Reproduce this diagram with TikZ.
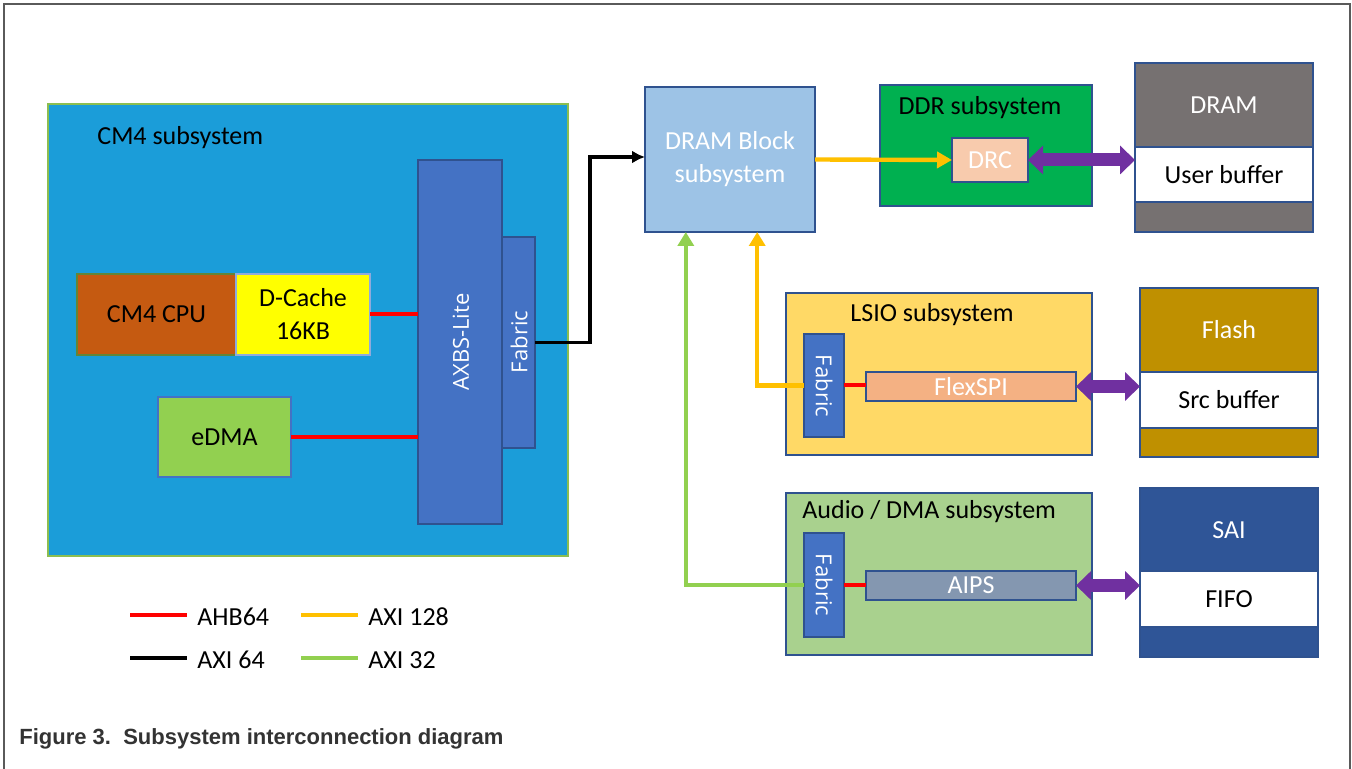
\documentclass[tikz,border=0pt]{standalone}
\usepackage{fontspec}
\setmainfont{Carlito}
\newfontfamily\osans{Open Sans}
\newfontfamily\capfont{Liberation Sans}
\usetikzlibrary{arrows.meta,calc}
\definecolor{cmbg}{RGB}{27,157,217}
\definecolor{cmbord}{RGB}{140,190,80}
\definecolor{bord}{RGB}{47,82,143}
\definecolor{axbsc}{RGB}{68,114,196}
\definecolor{cpuc}{RGB}{197,90,17}
\definecolor{cachec}{RGB}{255,255,0}
\definecolor{edmac}{RGB}{146,208,80}
\definecolor{dramblkc}{RGB}{157,195,230}
\definecolor{ddrc}{RGB}{0,176,80}
\definecolor{drcc}{RGB}{248,203,173}
\definecolor{dramc}{RGB}{118,113,113}
\definecolor{lsioc}{RGB}{255,217,102}
\definecolor{flexc}{RGB}{244,177,131}
\definecolor{flashc}{RGB}{191,144,0}
\definecolor{audioc}{RGB}{169,209,142}
\definecolor{aipsc}{RGB}{132,151,176}
\definecolor{saic}{RGB}{47,85,151}
\definecolor{purp}{RGB}{112,48,160}
\definecolor{ylw}{RGB}{255,192,0}
\definecolor{grn}{RGB}{146,208,80}
\definecolor{redl}{RGB}{255,0,0}
\definecolor{capc}{RGB}{51,51,51}
\definecolor{framec}{RGB}{90,90,90}
\newcommand\boxat[7]{\node[#2,anchor=north west,minimum width={(#5-#3)*0.5pt},minimum height={(#6-#4)*0.5pt}] (#1) at (#3,#4) {#7};}
\begin{document}
\begin{tikzpicture}[x=0.5pt,y=-0.5pt,
  bx/.style={draw=bord,line width=0.6pt,inner sep=0pt,outer sep=0pt},
  lbl/.style={font=\fontsize{13}{16.5}\selectfont,inner sep=0pt,align=center},
  rlbl/.style={font=\osans\fontsize{11}{13}\selectfont,text=white,inner sep=0pt},
  ahb/.style={draw=redl,line width=2pt},
  axi64/.style={draw=black,line width=1.8pt},
  axi128/.style={draw=ylw,line width=2.2pt},
  axi32/.style={draw=grn,line width=2.2pt},
  bidir/.style={draw=purp,line width=6.5pt,{Triangle[length=7.5pt,width=14pt]}-{Triangle[length=7.5pt,width=14pt]}},
  frame/.style={draw=framec,line width=1.2pt}]
\useasboundingbox (0,0) rectangle (1352,769);
\fill[white] (0,0) rectangle (1352,769);
\draw[frame] (4,769) -- (4,4) -- (1350,4) -- (1350,769);
% CM4 subsystem
\boxat{cm4}{bx,draw=cmbord,fill=cmbg}{48}{104}{568}{556}{}
\node[lbl,anchor=west] (cm4lbl) at (97,138) {CM4 subsystem};
\boxat{cpu}{bx,draw=cmbord!70!black,fill=cpuc,lbl}{77}{274}{236}{355}{CM4 CPU}
\boxat{dcache}{bx,draw=axbsc!60,fill=cachec,lbl}{236}{274}{370}{355}{D-Cache\\16KB}
\boxat{edma}{bx,draw=axbsc,fill=edmac,lbl}{158}{397}{291}{477}{eDMA}
\boxat{axbs}{bx,fill=axbsc}{418}{160}{502}{524}{}
\boxat{cmfab}{bx,fill=axbsc}{502}{237}{535}{448}{}
\node[rlbl,rotate=90] (axbslbl) at (461,342) {AXBS-Lite};
\node[rlbl,rotate=90] (cmfablbl) at (519,342) {Fabric};
% DRAM block
\boxat{dramblk}{bx,fill=dramblkc,lbl,text=white}{645}{87}{815}{232}{DRAM Block\\subsystem}
% DDR
\boxat{ddr}{bx,fill=ddrc}{880}{85}{1092}{206}{}
\node[lbl] (ddrlbl) at (980,108) {DDR subsystem};
\boxat{drc}{bx,fill=drcc,lbl,text=white}{952}{138}{1028}{182}{DRC}
% DRAM
\boxat{dram}{bx,fill=dramc}{1135}{63}{1313}{232}{}
\boxat{ubuf}{bx,fill=white,lbl}{1135}{147}{1313}{202}{User buffer}
\node[lbl,text=white] (dramlbl) at (1224,105) {DRAM};
% LSIO
\boxat{lsio}{bx,fill=lsioc}{786}{293}{1092}{455}{}
\node[lbl] (lsiolbl) at (932,315) {LSIO subsystem};
\boxat{lfab}{bx,fill=axbsc}{804}{334}{844}{437}{}
\node[rlbl,rotate=-90] (lfablbl) at (824,386) {Fabric};
\boxat{flexspi}{bx,fill=flexc,lbl,text=white}{866}{372}{1076}{401}{FlexSPI}
\boxat{flash}{bx,fill=flashc}{1140}{288}{1318}{457}{}
\boxat{sbuf}{bx,fill=white,lbl}{1140}{372}{1318}{428}{Src buffer}
\node[lbl,text=white] (flashlbl) at (1229,330) {Flash};
% Audio
\boxat{audio}{bx,fill=audioc}{786}{493}{1092}{655}{}
\node[lbl,anchor=west] (audiolbl) at (802,512) {Audio / DMA subsystem};
\boxat{afab}{bx,fill=axbsc}{804}{533}{844}{637}{}
\node[rlbl,rotate=-90] (afablbl) at (824,585) {Fabric};
\boxat{aips}{bx,fill=aipsc,lbl,text=white}{866}{571}{1076}{600}{AIPS}
\boxat{sai}{bx,fill=saic}{1140}{488}{1318}{657}{}
\boxat{fifo}{bx,fill=white,lbl}{1140}{571}{1318}{627}{FIFO}
\node[lbl,text=white] (sailbl) at (1229,530) {SAI};
% connectors
\draw[ahb] (dcache.east) -- (dcache.east -| axbs.west);
\draw[ahb] (edma.east) -- (edma.east -| axbs.west);
\coordinate (bk) at (590,157);
\draw[axi64,-{Latex[length=6.5pt,width=6.5pt]}] (cmfab.east) -| (bk) -- (bk -| dramblk.west);
\draw[axi128,-{Triangle[length=7.5pt,width=8pt]}] (dramblk.east) -- (drc.west);
\draw[bidir] (drc.east) -- (drc.east -| dram.west);
\coordinate (yup) at ($(dramblk.south west)!0.66!(dramblk.south east)$);
\coordinate (gup) at ($(dramblk.south west)!0.24!(dramblk.south east)$);
\draw[axi128,-{Triangle[length=7pt,width=8pt]}] (lfab.west) -| (yup);
\draw[ahb] (lfab.east) -- (lfab.east -| flexspi.west);
\draw[bidir] (flexspi.east) -- (flexspi.east -| flash.west);
\draw[axi32,-{Triangle[length=7pt,width=8pt]}] (afab.west) -| (gup);
\draw[ahb] (afab.east) -- (afab.east -| aips.west);
\draw[bidir] (aips.east) -- (aips.east -| sai.west);
% legend
\coordinate (la1) at (130,615); \coordinate (lb1) at (187,615);
\coordinate (la2) at (301,615); \coordinate (lb2) at (358,615);
\coordinate (la3) at (130,658); \coordinate (lb3) at (187,658);
\coordinate (la4) at (301,658); \coordinate (lb4) at (358,658);
\draw[ahb,line width=2.4pt] (la1) -- (lb1);
\draw[axi128,line width=2.4pt] (la2) -- (lb2);
\draw[axi64,line width=2.4pt] (la3) -- (lb3);
\draw[axi32,line width=2.4pt] (la4) -- (lb4);
\node[lbl,anchor=west,xshift=5pt,yshift=-1pt] (t1) at (lb1) {AHB64};
\node[lbl,anchor=west,xshift=5pt,yshift=-1pt] (t2) at (lb2) {AXI 128};
\node[lbl,anchor=west,xshift=5pt,yshift=-1pt] (t3) at (lb3) {AXI 64};
\node[lbl,anchor=west,xshift=5pt,yshift=-1pt] (t4) at (lb4) {AXI 32};
% caption
\node[anchor=west,inner sep=0pt,text=capc,font=\capfont\bfseries\fontsize{11}{13}\selectfont] (cap) at (19,739) {Figure 3.\ \ Subsystem interconnection diagram};
\end{tikzpicture}
\end{document}
